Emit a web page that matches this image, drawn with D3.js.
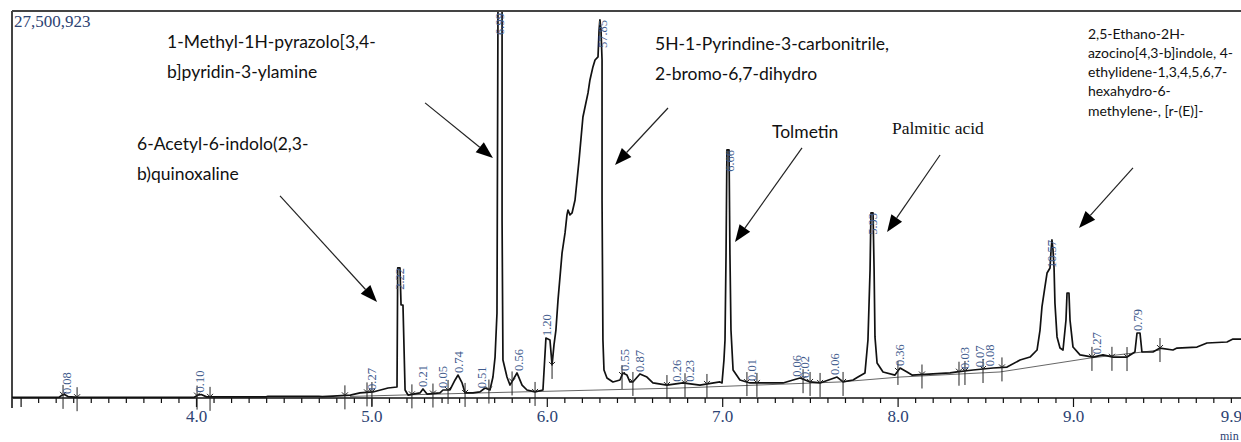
<!DOCTYPE html>
<html>
<head>
<meta charset="utf-8">
<script src="https://cdnjs.cloudflare.com/ajax/libs/d3/7.8.5/d3.min.js"></script>
<style>
  body{margin:0;padding:0;background:#fff;}
  svg{display:block;}
  .note{font-family:Lato, "Open Sans", sans-serif; font-size:17.5px; fill:#111;}
  .note.small{font-size:14px;}
  .note.serif{font-family:"Liberation Serif", serif; font-size:17.5px;}
  .pk{font-family:"Liberation Serif", serif; font-size:12.5px; fill:#3f5b8d;}
  .axis text{font-family:"Liberation Serif", serif; font-size:17px; fill:#2d4373;}
  .axis line{stroke:#111; stroke-width:1.2;}
</style>
</head>
<body>
<svg id="chrom" width="1241" height="442"></svg>
<script>
// retention time (min), signal (million counts)
const trace = [
  [2.951,0.05],[3.22,0.05],[3.236,0.2],[3.25,0.25],[3.27,0.1],[3.33,0.05],[3.99,0.05],[4.01,0.2],[4.03,0.25],[4.06,0.08],
  [4.40,0.08],[4.41,0.12],[4.70,0.12],[4.72,0.1],[4.78,0.14],[4.88,0.21],[4.935,0.36],[5.009,0.43],[5.095,0.71],[5.146,0.78],
  [5.150,9.24],[5.163,9.24],[5.169,6.61],[5.180,6.61],[5.192,0.57],[5.209,0.21],[5.277,0.36],[5.294,0.64],[5.317,0.28],[5.391,0.36],
  [5.408,0.57],[5.448,0.57],[5.477,1.28],[5.494,1.63],[5.517,1.07],[5.534,0.36],[5.579,0.36],[5.619,0.43],[5.648,0.71],[5.676,0.57],
  [5.693,1.49],[5.705,2.91],[5.716,6.04],[5.722,29],[5.745,29],[5.745,12.65],[5.750,2.70],[5.773,1.49],[5.790,0.92],[5.830,1.78],
  [5.859,0.92],[5.887,0.57],[5.933,0.43],[5.978,0.57],[5.995,4.26],[6.018,4.12],[6.030,2.35],[6.041,3.77],[6.052,4.83],[6.064,6.97],
  [6.087,10.31],[6.104,11.73],[6.115,13.01],[6.121,13.36],[6.132,13.01],[6.144,13.15],[6.161,14.07],[6.184,16.92],[6.206,19.97],[6.218,20.68],
  [6.235,21.68],[6.246,22.60],[6.263,23.53],[6.275,24.02],[6.292,24.24],[6.298,26.15],[6.303,26.87],[6.309,26.15],[6.315,24.02],[6.315,14.07],
  [6.320,4.12],[6.326,1.99],[6.343,1.42],[6.377,1.14],[6.417,1.28],[6.434,1.78],[6.457,1.63],[6.474,1.14],[6.491,1.14],[6.531,1.71],
  [6.571,1.49],[6.605,1.07],[6.685,0.92],[6.776,1.07],[6.873,0.92],[6.987,1.14],[6.999,1.07],[7.010,2.70],[7.016,4.12],[7.022,10.31],
  [7.027,17.63],[7.039,17.63],[7.044,10.31],[7.050,4.83],[7.062,1.99],[7.101,1.28],[7.158,1.07],[7.255,1.07],[7.347,1.07],[7.404,1.28],
  [7.444,1.42],[7.501,1.14],[7.558,1.07],[7.655,1.49],[7.689,1.14],[7.746,1.28],[7.774,1.49],[7.814,1.78],[7.831,4.12],[7.843,9.10],
  [7.848,13.15],[7.860,13.15],[7.866,9.10],[7.871,4.34],[7.883,2.49],[7.917,1.85],[7.985,1.63],[8.014,2.13],[8.054,1.85],[8.082,1.63],
  [8.299,1.78],[8.339,1.85],[8.430,1.99],[8.544,2.13],[8.624,2.20],[8.698,2.70],[8.755,2.91],[8.795,3.41],[8.812,4.83],[8.823,6.47],
  [8.840,7.89],[8.852,8.88],[8.869,9.24],[8.875,10.52],[8.880,11.23],[8.886,10.52],[8.892,9.24],[8.897,6.75],[8.909,4.34],[8.926,3.55],
  [8.943,3.41],[8.960,5.54],[8.966,7.46],[8.977,7.46],[8.983,5.54],[9.000,3.62],[9.040,3.06],[9.114,2.91],[9.171,3.06],[9.228,2.91],
  [9.308,2.91],[9.353,3.27],[9.365,4.62],[9.382,4.62],[9.393,3.27],[9.456,3.27],[9.496,3.55],[9.570,3.41],[9.593,3.55],[9.707,3.62],
  [9.764,3.91],[9.878,3.98],[9.912,4.19],[9.958,4.19]
];

// integration baseline
const baseline = [[4.878,0.11],[5.619,0.36],[6.759,0.71],[7.672,1.14],[8.014,1.49],[8.584,1.85],[9.097,2.84],[9.496,3.41]];

// peak start / end marks (min)
const marks = [3.242,3.322,4.006,4.080,4.849,4.975,5.003,5.231,5.351,5.437,5.534,5.670,5.802,5.933,6.030,6.429,6.491,6.685,
  6.788,6.913,7.141,7.198,7.461,7.501,7.558,7.689,8.002,8.139,8.350,8.384,8.487,8.595,9.108,9.222,9.308,9.496];

// area % labels
const peakText = ['0.08','0.10','0.27','2.22','0.21','0.05','0.74','0.51','6.99','0.56','1.20','57.85','0.55','0.87','0.26',
  '0.23','6.66','0.01','0.06','0.02','0.06','5.93','0.36','0.03','0.07','0.08','10.57','0.27','0.79'];
const peakTime = [3.265,4.023,5.003,5.163,5.294,5.408,5.500,5.631,5.730,5.842,6.001,6.318,6.446,6.531,6.742,
  6.816,7.040,7.170,7.427,7.472,7.643,7.858,8.014,8.384,8.470,8.527,8.880,9.137,9.371];

const tickValues = [4, 5, 6, 7, 8, 9, 9.9];
const tickLabels = ['4.0', '5.0', '6.0', '7.0', '8.0', '9.0', '9.9'];
const topLabel = '27,500,923';

const compounds = [
  ['6-Acetyl-6-indolo(2,3-', 'b)quinoxaline'],
  ['1-Methyl-1H-pyrazolo[3,4-', 'b]pyridin-3-ylamine'],
  ['5H-1-Pyrindine-3-carbonitrile,', '2-bromo-6,7-dihydro'],
  ['Tolmetin'],
  ['Palmitic acid'],
  ['2,5-Ethano-2H-', 'azocino[4,3-b]indole, 4-', 'ethylidene-1,3,4,5,6,7-', 'hexahydro-6-', 'methylene-, [r-(E)]-']
];

const svg = d3.select('#chrom');
const pLeft = 12, pRight = 1241, pTop = 11, pBase = 398;

const x = d3.scaleLinear().domain([4, 9]).range([196, 1073]);
const y = d3.scaleLinear().domain([0, 27.500923]).range([pBase, pTop]);

svg.append('clipPath').attr('id', 'clip')
  .append('rect').attr('x', pLeft).attr('y', pTop + 1).attr('width', pRight - pLeft).attr('height', 442 - pTop);

// axis with 0.1 min ticks
const allTicks = d3.range(30, 100).map(d => d / 10);
const axis = d3.axisBottom(x)
  .tickValues(allTicks)
  .tickSize(5)
  .tickSizeOuter(0)
  .tickPadding(7)
  .tickFormat(d => {
    let i = tickValues.findIndex(v => Math.abs(v - d) < 1e-6);
    return i < 0 ? '' : tickLabels[i];
  });
const gx = svg.append('g').attr('class', 'axis').attr('transform', `translate(0,${pBase})`).call(axis);
gx.select('.domain').remove();
gx.selectAll('.tick line').filter(d => Math.abs(d - Math.round(d)) < 1e-6).attr('y2', 9);

// frame
svg.append('line').attr('x1', pLeft).attr('x2', pRight).attr('y1', pBase).attr('y2', pBase)
  .attr('stroke', '#111').attr('stroke-width', 1.6);
svg.append('line').attr('x1', pLeft).attr('x2', pRight).attr('y1', pTop).attr('y2', pTop)
  .attr('stroke', '#444').attr('stroke-width', 2);
svg.append('line').attr('x1', pLeft).attr('x2', pLeft).attr('y1', pTop).attr('y2', 408)
  .attr('stroke', '#444').attr('stroke-width', 2);

svg.append('text').attr('x', pLeft + 2).attr('y', 27)
  .attr('font-family', '"Liberation Serif", serif').attr('font-size', 17).attr('fill', '#2d4373')
  .text(topLabel);
svg.append('text').attr('x', 1220).attr('y', 440)
  .attr('font-family', '"Liberation Serif", serif').attr('font-size', 12).attr('fill', '#2d4373')
  .text('min');

// integration baseline + trace
const line = d3.line().x(d => x(d[0])).y(d => y(d[1]));
svg.append('path').datum(baseline).attr('d', line)
  .attr('fill', 'none').attr('stroke', '#555').attr('stroke-width', 0.9);
svg.append('path').datum(trace).attr('d', line).attr('clip-path', 'url(#clip)')
  .attr('fill', 'none').attr('stroke', '#111').attr('stroke-width', 1.7).attr('stroke-linejoin', 'round');

// value of trace at t
const bis = d3.bisector(d => d[0]).left;
function valueAt(t) {
  let i = bis(trace, t);
  if (i <= 0) return trace[0][1];
  if (i >= trace.length) return trace[trace.length - 1][1];
  let a = trace[i - 1], b = trace[i];
  return a[1] + (b[1] - a[1]) * (t - a[0]) / (b[0] - a[0]);
}
function apexNear(t) {
  let m = valueAt(t);
  trace.forEach(d => { if (Math.abs(d[0] - t) < 0.015 && d[1] > m) m = d[1]; });
  return m;
}

// peak marks
const mk = svg.append('g').attr('stroke', '#222').attr('stroke-width', 1);
marks.forEach(t => {
  let px = x(t), py = y(Math.min(valueAt(t), 30));
  mk.append('line').attr('x1', px).attr('x2', px).attr('y1', py - 10).attr('y2', py + 14);
  mk.append('path').attr('fill', 'none').attr('d', `M${px - 3},${py - 3}L${px},${py}L${px + 3},${py - 3}`);
});

// area labels
peakText.forEach((s, i) => {
  let t = peakTime[i], v = apexNear(t);
  let px = x(t), py;
  let tall = v > 8;
  py = tall ? Math.max(y(v), pTop + 2) : y(v) - 2;
  svg.append('text').attr('class', 'pk')
    .attr('transform', `translate(${px},${py}) rotate(-90)`)
    .attr('dy', '0.35em')
    .attr('text-anchor', tall ? 'end' : 'start')
    .text(s);
});

// compound notes: [t, value] anchor of first line, line step px, class
const notePos = [
  [3.664, 17.63, 30, 'note'],
  [3.835, 24.88, 30, 'note'],
  [6.617, 24.73, 30, 'note'],
  [7.284, 18.48, 30, 'note'],
  [7.968, 18.76, 30, 'note serif'],
  [9.085, 25.52, 19.2, 'note small']
];
compounds.forEach((lines, i) => {
  let p = notePos[i];
  let tx = svg.append('text').attr('class', p[3]).attr('x', x(p[0])).attr('y', y(p[1]));
  lines.forEach((l, j) => {
    tx.append('tspan').attr('x', x(p[0])).attr('dy', j ? p[2] : 0).text(l);
  });
});

// arrows
const arrowFrom = [[4.479, 14.36], [5.306, 20.97], [6.691, 20.61], [7.455, 17.77], [8.242, 17.27], [9.342, 16.35]];
const arrowTo = [[5.032, 6.82], [5.693, 17.06], [6.389, 16.56], [7.073, 11.09], [7.940, 11.80], [9.034, 12.08]];
arrowFrom.forEach((a, i) => {
  let x1 = x(a[0]), y1 = y(a[1]), x2 = x(arrowTo[i][0]), y2 = y(arrowTo[i][1]);
  let ang = Math.atan2(y2 - y1, x2 - x1), L = 17, Wd = 6.5;
  let bx = x2 - L * Math.cos(ang), by = y2 - L * Math.sin(ang);
  svg.append('line').attr('x1', x1).attr('y1', y1).attr('x2', bx).attr('y2', by)
    .attr('stroke', '#222').attr('stroke-width', 1.2);
  svg.append('path').attr('fill', '#000')
    .attr('d', `M${x2},${y2}L${bx + Wd * Math.sin(ang)},${by - Wd * Math.cos(ang)}L${bx - Wd * Math.sin(ang)},${by + Wd * Math.cos(ang)}Z`);
});
</script>
</body>
</html>
